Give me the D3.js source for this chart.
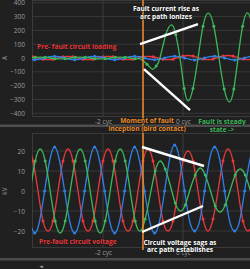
<!DOCTYPE html>
<html>
<head>
<meta charset="utf-8">
<script src="https://cdn.jsdelivr.net/npm/d3@7"></script>
<style>
  body { margin: 0; background: #202020; }
  svg { display: block; }
  text { font-family: "Open Sans", "DejaVu Sans", sans-serif; }
</style>
</head>
<body>
<div id="viz"></div>
<script>
// taille de la fenetre
const W = 250, H = 269;
const step = 0.125; // 1/8 de cycle entre deux echantillons

// ---------------- DONNEES ----------------
const xTicks = [-2, 0];                 // cycles
const iTicks = [-400, -300, -200, -100, 0, 100, 200, 300, 400];
const vTicks = [-20, -10, 0, 10, 20];
const faultT = -1.0;                    // moment du defaut

// tensions (kV), un point tous les 1/8 cycle
const vRedStart = -4.125;
const vRed = [0, 15, 21, 15, 0, -15, -20, -15,
              0, 15, 21, 15, 0, -15, -20, -15,
              0, 15, 21, 15, 0, -15, -20, -15,
              0, 15, 21, 15, 0, -15, -20, -15,
              0, 15, 20, 15, 0, -14, -20, -14,
              0, 15, 21, 15, 0, -15, -20, -15, 0];

const vBlueStart = -3.835;
const vBlue = [-15, -21, -15,
               0, 15, 22, 15, 0, -15, -21, -15,
               0, 15, 22, 15, 0, -15, -21, -15,
               0, 15, 22, 15, 0, -15, -21, -15,
               0, 16, 23, 16, 0, -15, -20, -15,
               0, 16, 22, 16, 0, -15, -20, -15,
               0, 15, 22, 15];

const vGreenStart = -3.82;
const vGreen = [0, 15, 21, 15, 0, -15, -21, -15,
                0, 15, 21, 15, 0, -15, -21, -15,
                0, 15, 21, 15, 0, -15, -20,
                -14, -2, 10, 15, 11, 3, -6, -10,
                -7, 1, 8, 11.5, 8, 0.5, -7.5, -10.5,
                -7, 0.5, 8, 11, 8, 0.5, -7, -10];

// courants (A)
const iRedStart = -4.125;
const iRed = [0, 9, 12, 9, 0, -9, -12, -9,
              0, 9, 12, 9, 0, -9, -12, -9,
              0, 9, 12, 9, 0, -9, -12, -9,
              0, 9, 12, 9, 0, -9, -12, -9,
              3, 14, 18, 14, 3, -8, -12, -8,
              3, 14, 18, 14, 3, -8, -12, -8, 3];

const iBlueStart = -3.835;
const iBlue = [-9, -12, -9,
               0, 9, 12, 9, 0, -9, -12, -9,
               0, 9, 12, 9, 0, -9, -12, -9,
               0, 9, 12, 9, 0, -9, -12, -9,
               0, 10, 13, 10, 0, -10, -14, -10,
               0, 10, 13, 10, 0, -10, -14, -10,
               0, 10, 13, 10];

const iGreenStart = -3.82;
const iGreenPre = [0, 5, 7, 5, 0, -5, -7, -5,
                   0, 5, 7, 5, 0, -5, -7, -5,
                   0, 5, 7, 5, 0, -5, -7];
// apres le defaut : points irreguliers
const iGreenPostT = [-0.9, -0.76, -0.67, -0.575, -0.43, -0.28, -0.18, -0.075,
                     0.03, 0.13, 0.25, 0.375, 0.5, 0.63, 0.77, 0.9,
                     1.03, 1.16, 1.27, 1.375, 1.49, 1.61, 1.73, 1.85];
const iGreenPostV = [-45, -82, -58, 0, 170, 240, 170, 0,
                     -220, -310, -220, 0, 230, 325, 230, 0,
                     -225, -318, -225, 0, 230, 327, 230, 0];

const red = '#e8383c', blue = '#2f80e8', green = '#3cb85a', orange = '#e8892c';

// echantillons -> points ; marqueur sur les indices impairs
const pts = (start, vals) => vals.map((v, i) => ({t: start + i * step, v: v, m: i % 2 === 1}));
const iGreen = pts(iGreenStart, iGreenPre).concat(
  iGreenPostT.map((t, i) => ({t: t, v: iGreenPostV[i], m: (iGreenPre.length + i) % 2 === 1})));

// ---------------- SVG ----------------
const svg = d3.select('#viz').append('svg')
  .attr('width', W).attr('height', H);

const x = d3.scaleLinear().domain([-3.775, 1.675]).range([32, 250]);

// bandes de separation
svg.append('rect').attr('x', 0).attr('y', 124.5).attr('width', W).attr('height', 2.5).attr('fill', '#4e4e4e');
svg.append('rect').attr('x', 0).attr('y', 258).attr('width', W).attr('height', 2.5).attr('fill', '#4a4a4a');
svg.append('text').attr('x', 41).attr('y', 267.5).attr('font-size', 5).attr('fill', '#9a9a9a')
  .attr('text-anchor', 'middle').text('◄');

function panel(id, top, bottom, yDomain, ticks, unit, series) {
  const y = d3.scaleLinear().domain(yDomain).range([bottom, top]);
  const g = svg.append('g');

  g.append('clipPath').attr('id', id)
    .append('rect').attr('x', 32).attr('y', top).attr('width', W - 32).attr('height', bottom - top);

  // grille
  g.append('g').selectAll('line').data(ticks).join('line')
    .attr('x1', 32).attr('x2', W)
    .attr('y1', d => y(d)).attr('y2', d => y(d))
    .attr('stroke', '#373737').attr('stroke-width', 1);
  g.append('g').selectAll('line').data(xTicks).join('line')
    .attr('x1', d => x(d)).attr('x2', d => x(d))
    .attr('y1', top).attr('y2', bottom)
    .attr('stroke', '#3c3c3c').attr('stroke-width', 1);
  g.append('rect').attr('x', 32.5).attr('y', top + 0.5).attr('width', W).attr('height', bottom - top)
    .attr('fill', 'none').attr('stroke', '#3a3a3a');

  // axe y
  const ay = g.append('g').attr('transform', 'translate(32,0)')
    .call(d3.axisLeft(y).tickValues(ticks).tickSize(0).tickPadding(7));
  ay.select('.domain').remove();
  ay.selectAll('text').attr('fill', '#9c9c9c').style('font-size', '6.5px')
    .style('font-family', '"Open Sans", sans-serif');

  // axe x
  const ax = g.append('g').attr('transform', `translate(0,${bottom})`)
    .call(d3.axisBottom(x).tickValues(xTicks).tickSize(0).tickPadding(3).tickFormat(d => `${d} cyc`));
  ax.select('.domain').remove();
  ax.selectAll('text').attr('fill', '#9c9c9c').style('font-size', '6.5px')
    .style('font-family', '"Open Sans", sans-serif');

  g.append('text')
    .attr('transform', `translate(7,${y(0)}) rotate(-90)`)
    .attr('text-anchor', 'middle').attr('font-size', 6.5).attr('fill', '#9c9c9c')
    .text(unit);

  const line = d3.line().x(d => x(d.t)).y(d => y(d.v)).curve(d3.curveNatural);
  const plot = g.append('g').attr('clip-path', `url(#${id})`);
  series.forEach(s => {
    plot.append('path').datum(s.data)
      .attr('d', line).attr('fill', 'none')
      .attr('stroke', s.color).attr('stroke-width', 1.3);
    plot.append('g').selectAll('circle').data(s.data.filter(d => d.m)).join('circle')
      .attr('cx', d => x(d.t)).attr('cy', d => y(d.v)).attr('r', 1.5)
      .attr('fill', s.color);
  });
  return y;
}

const yI = panel('clipI', 0, 116, [-420, 420], iTicks, 'A', [
  {data: pts(iRedStart, iRed), color: red},
  {data: pts(iBlueStart, iBlue), color: blue},
  {data: iGreen, color: green}
]);

const yV = panel('clipV', 133, 247, [-28, 29], vTicks, 'kV', [
  {data: pts(vRedStart, vRed), color: red},
  {data: pts(vBlueStart, vBlue), color: blue},
  {data: pts(vGreenStart, vGreen), color: green}
]);

// ligne du defaut
svg.append('line').attr('x1', x(faultT)).attr('x2', x(faultT)).attr('y1', 0).attr('y2', 250)
  .attr('stroke', orange).attr('stroke-width', 1.6);

// traits blancs (annotations)
const arrows = [
  [[-1.075, 101], [0.375, 246]],   // haut
  [[-0.975, -80], [0.175, -377]],
  [[-1.025, 22], [0.525, 12.5]],   // bas
  [[-1.025, -20.5], [0.5, -7.5]]
];
const annY = [yI, yI, yV, yV];
svg.append('g').selectAll('line').data(arrows).join('line')
  .attr('x1', (d, i) => x(d[0][0])).attr('y1', (d, i) => annY[i](d[0][1]))
  .attr('x2', (d, i) => x(d[1][0])).attr('y2', (d, i) => annY[i](d[1][1]))
  .attr('stroke', '#fff').attr('stroke-width', 2.4);

// textes
function label(lines, cx, cy, color, anchor) {
  const t = svg.append('text').attr('x', cx).attr('y', cy)
    .attr('text-anchor', anchor || 'middle').attr('font-size', 6.6).attr('font-weight', 700)
    .attr('fill', color)
    .attr('stroke', '#1a1a1a').attr('stroke-width', 1.2).attr('paint-order', 'stroke');
  lines.forEach((s, i) => t.append('tspan').attr('x', cx).attr('dy', i ? 7.6 : 0).text(s));
}
label(['Pre- fault circuit loading'], 37, 48.5, red, 'start');
label(['Fault current rise as', 'arc path ionizes'], 166, 11, '#ffffff');
label(['Moment of fault', 'inception (bird contact)'], 147, 123, orange);
label(['Fault is steady', 'state ->'], 222, 124, green);
label(['Pre-fault circuit voltage'], 39, 243.5, red, 'start');
label(['Circuit voltage sags as', 'arc path establishes'], 180, 244.5, '#ffffff');
</script>
</body>
</html>
